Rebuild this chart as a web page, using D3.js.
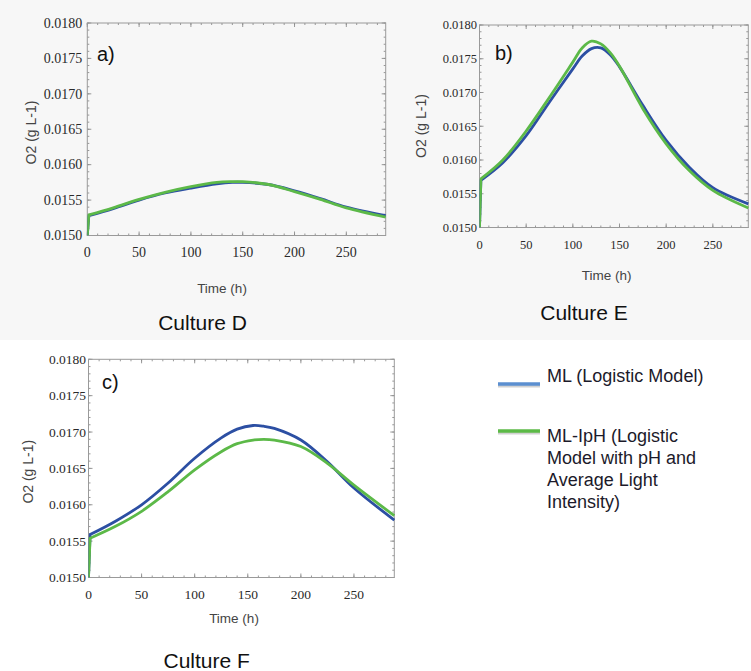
<!DOCTYPE html>
<html>
<head>
<meta charset="utf-8">
<script src="https://cdn.jsdelivr.net/npm/d3@7"></script>
<style>
  body { margin: 0; background: #fff; }
  svg { display: block; }
</style>
</head>
<body>
<div id="chart"></div>
<script>
// values (O2 in g/L, time in h)
var xTicks = [0, 50, 100, 150, 200, 250]
var yTicks = [0.0150, 0.0155, 0.0160, 0.0165, 0.0170, 0.0175, 0.0180]
var xMax = 288

var timeD = [0, 1.5, 25, 50, 75, 100, 125, 140, 150, 175, 200, 225, 250, 288]
var mlD = [0.01500, 0.01528, 0.01538, 0.01550, 0.01560, 0.01567, 0.01573, 0.01575, 0.01575, 0.01572, 0.01563, 0.01552, 0.01540, 0.01528]
var mlphD = [0.01500, 0.01529, 0.01539, 0.01551, 0.01561, 0.01569, 0.01575, 0.01576, 0.01576, 0.01572, 0.01562, 0.01551, 0.01539, 0.01526]

var timeE = [0, 1.5, 25, 50, 75, 100, 110, 120, 130, 140, 150, 175, 200, 225, 250, 288]
var mlE = [0.01500, 0.01570, 0.01596, 0.01636, 0.01686, 0.01735, 0.01754, 0.01765, 0.01766, 0.01756, 0.01738, 0.01681, 0.01629, 0.01589, 0.01559, 0.01535]
var mlphE = [0.01500, 0.01572, 0.01600, 0.01643, 0.01693, 0.01745, 0.01766, 0.01776, 0.01772, 0.01759, 0.01739, 0.01676, 0.01624, 0.01584, 0.01555, 0.01529]

var timeF = [0, 1.5, 25, 50, 75, 100, 125, 140, 155, 165, 175, 200, 225, 250, 288]
var mlF = [0.01500, 0.01559, 0.01577, 0.01600, 0.01630, 0.01664, 0.01692, 0.01704, 0.01709, 0.01708, 0.01705, 0.01689, 0.01659, 0.01623, 0.01579]
var mlphF = [0.01500, 0.01554, 0.01570, 0.01591, 0.01618, 0.01648, 0.01673, 0.01684, 0.01689, 0.01690, 0.01689, 0.01680, 0.01657, 0.01627, 0.01585]

var legendML = ['ML (Logistic Model)']
var legendMLpH = ['ML-IpH (Logistic', 'Model with pH and', 'Average Light', 'Intensity)']

var COLORS = { ml: '#2c4fa3', mlph: '#5cb948', legendMl: '#5b8fd0', legendMlph: '#5cba47' }
var SANS = "'Liberation Sans', Arial, sans-serif"
var SERIF = "'Liberation Serif', 'Times New Roman', 'DejaVu Serif', serif"

var PANELS = [
  { id: 'a', tag: 'a)', title: 'Culture D', time: timeD, ml: mlD, mlph: mlphD,
    box: { left: 87.3, right: 385.7, top: 23, bottom: 235.5 }, tickFont: 14, yGap: 5,
    tagPos: [97, 61], yLabel: [31.5, 132.5], xLabel: [222, 293], titlePos: [202.5, 330] },
  { id: 'b', tag: 'b)', title: 'Culture E', time: timeE, ml: mlE, mlph: mlphE,
    box: { left: 479.5, right: 748.3, top: 25, bottom: 227.5 }, tickFont: 12.5, yGap: 2.5,
    tagPos: [495, 60], yLabel: [421.5, 126], xLabel: [606.7, 280], titlePos: [584, 320] },
  { id: 'c', tag: 'c)', title: 'Culture F', time: timeF, ml: mlF, mlph: mlphF,
    box: { left: 88.5, right: 394.3, top: 359.3, bottom: 577.5 }, tickFont: 13.5, yGap: 2.5,
    tagPos: [102, 389], yLabel: [28.5, 471.7], xLabel: [234, 623], titlePos: [206.7, 668] }
]

var W = 751
var H = 671

var svg = d3.select('#chart').append('svg')
  .attr('width', W)
  .attr('height', H)
  .attr('viewBox', '0 0 ' + W + ' ' + H)

// light grey band behind the two upper panels
svg.append('rect')
  .attr('x', 0).attr('y', 0)
  .attr('width', W).attr('height', 340)
  .attr('fill', '#f7f7f7')

var defs = svg.append('defs')

function drawPanel (p) {
  var b = p.box
  var x = d3.scaleLinear().domain([0, xMax]).range([b.left, b.right])
  var y = d3.scaleLinear().domain([0.015, 0.018]).range([b.bottom, b.top])

  var g = svg.append('g').attr('class', 'panel panel-' + p.id)

  defs.append('clipPath').attr('id', 'clip-' + p.id)
    .append('rect')
    .attr('x', b.left).attr('y', b.top - 2)
    .attr('width', b.right - b.left + 2).attr('height', b.bottom - b.top + 2)

  var minorX = d3.range(0, xMax + 1, 10)
  var minorY = d3.range(0, 31).map(function (i) { return 0.015 + i * 0.0001 })

  var ticks = g.append('g').attr('stroke', '#8c8c8c').attr('stroke-width', 0.9)

  function xTickLines (vals, len) {
    vals.forEach(function (v) {
      ticks.append('line').attr('x1', x(v)).attr('x2', x(v))
        .attr('y1', b.bottom).attr('y2', b.bottom - len)
      ticks.append('line').attr('x1', x(v)).attr('x2', x(v))
        .attr('y1', b.top).attr('y2', b.top + len)
    })
  }
  function yTickLines (vals, len) {
    vals.forEach(function (v) {
      ticks.append('line').attr('y1', y(v)).attr('y2', y(v))
        .attr('x1', b.left).attr('x2', b.left + len)
      ticks.append('line').attr('y1', y(v)).attr('y2', y(v))
        .attr('x1', b.right).attr('x2', b.right - len)
    })
  }
  xTickLines(minorX, 2)
  xTickLines(xTicks, 4)
  yTickLines(minorY, 2)
  yTickLines(yTicks, 4)

  g.append('rect')
    .attr('x', b.left).attr('y', b.top)
    .attr('width', b.right - b.left).attr('height', b.bottom - b.top)
    .attr('fill', 'none')
    .attr('stroke', '#9a9a9a')
    .attr('stroke-width', 1)

  g.append('g').selectAll('text')
    .data(xTicks)
    .enter().append('text')
    .attr('x', function (d) { return x(d) })
    .attr('y', b.bottom + 21)
    .attr('text-anchor', 'middle')
    .attr('font-family', SERIF)
    .attr('font-size', p.tickFont)
    .attr('fill', '#2a2a2a')
    .text(function (d) { return d })

  g.append('g').selectAll('text')
    .data(yTicks)
    .enter().append('text')
    .attr('x', b.left - p.yGap)
    .attr('y', function (d) { return y(d) })
    .attr('dy', '0.34em')
    .attr('text-anchor', 'end')
    .attr('font-family', SERIF)
    .attr('font-size', p.tickFont)
    .attr('fill', '#2a2a2a')
    .text(function (d) { return d3.format('.4f')(d) })

  // vertical start-up jump drawn straight, the rest smoothed
  var jump = d3.line()
    .x(function (d) { return x(d[0]) })
    .y(function (d) { return y(d[1]) })
  var smooth = d3.line()
    .x(function (d) { return x(d[0]) })
    .y(function (d) { return y(d[1]) })
    .curve(d3.curveCatmullRom.alpha(0.5))

  function seriesPath (vals) {
    var pts = d3.zip(p.time, vals)
    return jump(pts.slice(0, 2)) + smooth(pts.slice(1)).replace(/^M[^A-Za-z]*/, '')
  }

  var lines = g.append('g').attr('clip-path', 'url(#clip-' + p.id + ')')
  ;[['ml', p.ml], ['mlph', p.mlph]].forEach(function (s) {
    lines.append('path')
      .attr('d', seriesPath(s[1]))
      .attr('fill', 'none')
      .attr('stroke', COLORS[s[0]])
      .attr('stroke-width', 2.8)
      .attr('stroke-linejoin', 'round')
  })

  g.append('text')
    .attr('x', p.tagPos[0]).attr('y', p.tagPos[1])
    .attr('font-family', SANS).attr('font-size', 20).attr('fill', '#111')
    .text(p.tag)

  g.append('text')
    .attr('transform', 'translate(' + p.yLabel[0] + ',' + p.yLabel[1] + ') rotate(-90)')
    .attr('text-anchor', 'middle').attr('dy', '0.35em')
    .attr('font-family', SANS).attr('font-size', 14).attr('fill', '#444')
    .text('O2 (g L-1)')

  g.append('text')
    .attr('x', p.xLabel[0]).attr('y', p.xLabel[1])
    .attr('text-anchor', 'middle')
    .attr('font-family', SANS).attr('font-size', 13.5).attr('fill', '#444')
    .text('Time (h)')

  g.append('text')
    .attr('x', p.titlePos[0]).attr('y', p.titlePos[1])
    .attr('text-anchor', 'middle')
    .attr('font-family', SANS).attr('font-size', 21).attr('fill', '#111')
    .text(p.title)
}

PANELS.forEach(drawPanel)

// legend
var legend = svg.append('g').attr('class', 'legend')
var legendItems = [
  { lines: legendML, color: COLORS.legendMl, lineY: 384, textY: 381.7 },
  { lines: legendMLpH, color: COLORS.legendMlph, lineY: 431, textY: 441.7 }
]
legendItems.forEach(function (item) {
  legend.append('line')
    .attr('x1', 498).attr('x2', 540)
    .attr('y1', item.lineY + 1.5).attr('y2', item.lineY + 1.5)
    .attr('stroke', '#000').attr('stroke-opacity', 0.18)
    .attr('stroke-width', 4)
  legend.append('line')
    .attr('x1', 498).attr('x2', 540)
    .attr('y1', item.lineY).attr('y2', item.lineY)
    .attr('stroke', item.color)
    .attr('stroke-width', 3.5)
  var t = legend.append('text')
    .attr('x', 547).attr('y', item.textY)
    .attr('font-family', SANS).attr('font-size', 18).attr('fill', '#1c1a2a')
  item.lines.forEach(function (s, i) {
    t.append('tspan').attr('x', 547).attr('dy', i === 0 ? 0 : 22).text(s)
  })
})
</script>
</body>
</html>
